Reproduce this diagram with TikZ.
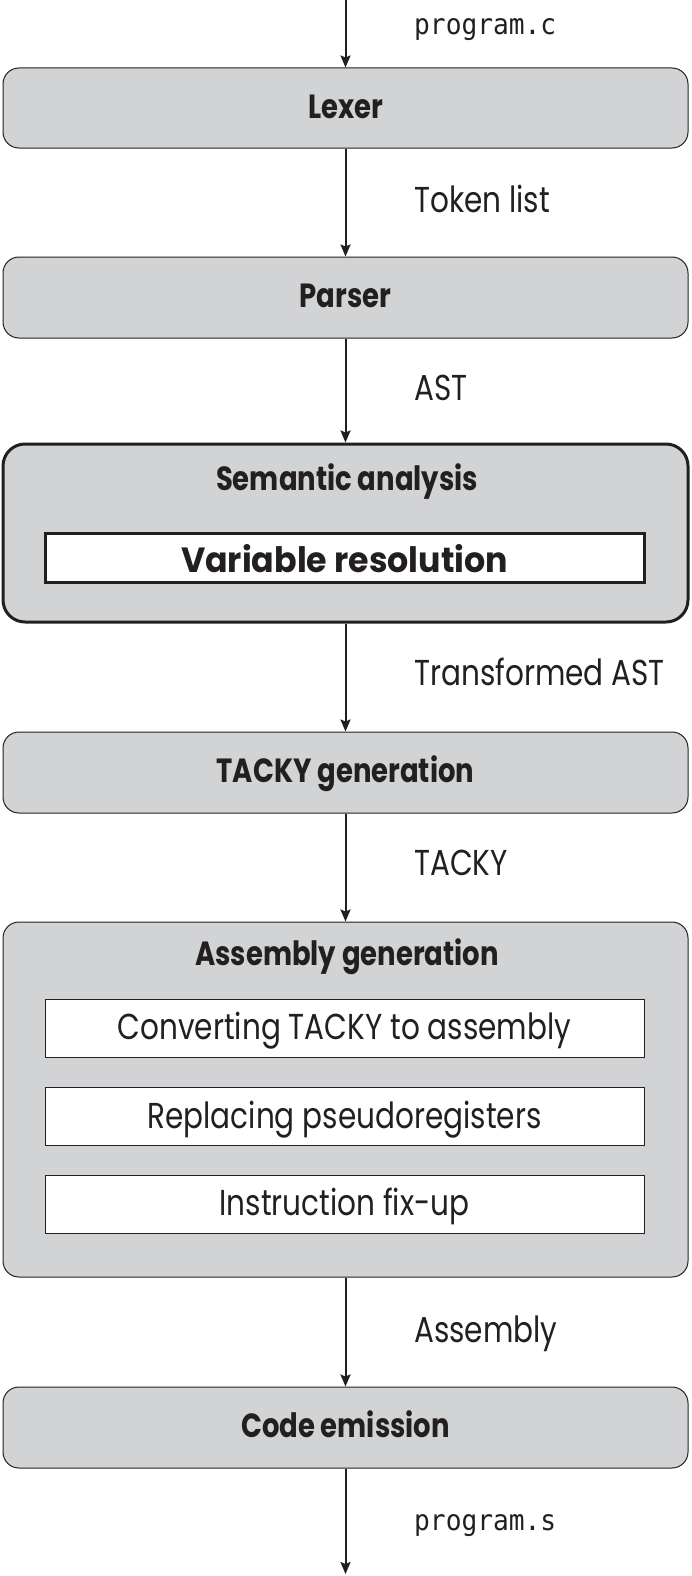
\documentclass[tikz,border=0pt]{standalone}
\usepackage{fontspec}
\setmainfont{Poppins}[FakeStretch=0.82]
\newfontfamily\widefont{Poppins}[FakeStretch=0.95]
\newfontfamily\codefont{DejaVu Sans Mono}[FakeStretch=0.92]
\usetikzlibrary{arrows.meta}
\definecolor{boxgray}{HTML}{D1D3D4}
\definecolor{ink}{HTML}{231F20}
\tikzset{
  stage/.style={draw=ink, line width=1pt, fill=boxgray, rounded corners=16pt,
    minimum width=685pt, minimum height=80pt, inner sep=0pt,
    font=\fontsize{33.5}{40}\selectfont\bfseries, text=ink,
    text height=20pt, text depth=0pt},
  group/.style={draw=ink, fill=boxgray, inner sep=0pt, minimum width=685pt},
  substep/.style={draw=ink, line width=1pt, fill=white, inner sep=0pt,
    minimum width=599pt, minimum height=58pt,
    font=\fontsize{36}{42}\selectfont, text=ink,
    text height=23pt, text depth=0pt},
  grouptitle/.style={anchor=base, inner sep=0pt, text=ink,
    font=\fontsize{33.5}{40}\selectfont\bfseries},
  flowlabel/.style={anchor=base west, inner sep=0pt, text=ink,
    font=\fontsize{36}{42}\selectfont},
  codelabel/.style={anchor=base west, inner sep=0pt, text=ink,
    font=\fontsize{28.5}{34}\selectfont\codefont},
  flow/.style={draw=ink, line width=2pt,
    -{Stealth[length=12pt,width=10pt,inset=2pt]}}
}
\begin{document}
\begin{tikzpicture}[x=1pt,y=-1pt]
\useasboundingbox (0,0) rectangle (691,1576);

% stages
\node[stage] (lexer) at (345.5,108) {Lexer};
\node[stage, minimum height=81pt] (parser) at (345.5,297.5) {Parser};
\node[group, line width=3pt, rounded corners=22pt, minimum height=178pt] (sem) at (345.5,533) {};
\node[grouptitle] (semtitle) at (347,490) {Semantic analysis};
\node[draw=ink, line width=3pt, fill=white, inner sep=0pt, minimum width=599pt,
  minimum height=49pt, text height=29pt, text depth=0pt, text=ink,
  font=\fontsize{35}{42}\selectfont\widefont\bfseries] (varres) at (344.5,557.5) {Variable resolution};
\node[stage, minimum height=81pt] (tacky) at (345.5,772.5) {TACKY generation};
\node[group, line width=1pt, rounded corners=16pt, minimum height=355pt] (asm) at (345.5,1099.5) {};
\node[grouptitle] (asmtitle) at (347,965) {Assembly generation};
\node[substep] (conv) at (344.5,1028) {Converting TACKY to assembly};
\node[substep] (pseudo) at (344.5,1116.5) {Replacing pseudoregisters};
\node[substep] (fixup) at (344.5,1204) {Instruction fix-up};
\node[stage, minimum height=81pt] (emit) at (345.5,1427.5) {Code emission};

% free ends
\coordinate (src) at (345.5,0);
\coordinate (dst) at (345.5,1574);

% connectors
\draw[flow] (src) -- (lexer.north);
\draw[flow] (lexer.south) -- (parser.north);
\draw[flow] (parser.south) -- (sem.north);
\draw[flow] (sem.south) -- (tacky.north);
\draw[flow] (tacky.south) -- (asm.north);
\draw[flow] (asm.south) -- (emit.north);
\draw[flow] (emit.south) -- (dst);

% labels
\node[codelabel] (lprog) at (414,35) {program.c};
\node[flowlabel] (ltok) at (414,212) {Token list};
\node[flowlabel] (last) at (414,400) {AST};
\node[flowlabel] (ltast) at (414,685) {Transformed AST};
\node[flowlabel] (ltacky) at (414,875) {TACKY};
\node[flowlabel] (lasm) at (414,1342) {Assembly};
\node[codelabel] (lout) at (414,1530) {program.s};
\end{tikzpicture}
\end{document}
